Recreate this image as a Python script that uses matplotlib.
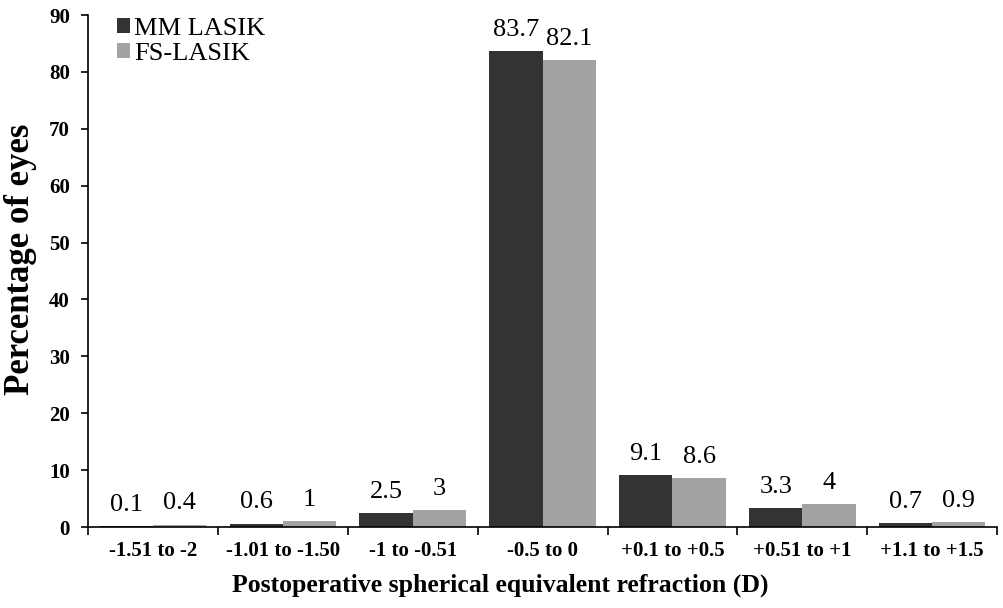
import numpy as np
import matplotlib.pyplot as plt

# data
categories = ['-1.51 to -2', '-1.01 to -1.50', '-1 to -0.51', '-0.5 to 0',
              '+0.1 to +0.5', '+0.51 to +1', '+1.1 to +1.5']
mm_lasik = [0.1, 0.6, 2.5, 83.7, 9.1, 3.3, 0.7]
fs_lasik = [0.4, 1, 3, 82.1, 8.6, 4, 0.9]
mm_labels = ['0.1', '0.6', '2.5', '83.7', '9.1', '3.3', '0.7']
fs_labels = ['0.4', '1', '3', '82.1', '8.6', '4', '0.9']

plt.rcParams['font.family'] = ['Liberation Serif', 'DejaVu Serif']

fig = plt.figure(figsize=(10.04, 6.08), dpi=100)
ax = fig.add_axes([0.0877, 0.1332, 0.9055, 0.8421])

x = np.arange(len(categories))
w = 0.41
ax.bar(x - w / 2, mm_lasik, w, color='#333333', label='MM LASIK')
ax.bar(x + w / 2, fs_lasik, w, color='#a3a3a3', label='FS-LASIK')

for i in range(len(categories)):
    ax.annotate(mm_labels[i], (x[i] - w / 2, mm_lasik[i]), xytext=(0, 11),
                textcoords='offset points', ha='center', va='baseline', fontsize=19)
    ax.annotate(fs_labels[i], (x[i] + w / 2, fs_lasik[i]), xytext=(0, 11),
                textcoords='offset points', ha='center', va='baseline', fontsize=19)

ax.set_xlim(-0.5, len(categories) - 0.5)
ax.set_ylim(0, 90)
ax.set_yticks(range(0, 91, 10))
ax.set_xticks(np.arange(-0.5, len(categories), 1))
ax.set_xticklabels([])
ax.set_xticks(x, minor=True)
ax.set_xticklabels(categories, minor=True, fontweight='bold', fontsize=15)
ax.tick_params(axis='x', which='minor', length=0, pad=10)
ax.tick_params(axis='x', which='major', length=6, direction='out', width=1.2)
ax.tick_params(axis='y', length=5, width=1.2, labelsize=15, pad=8)
for t in ax.get_yticklabels():
    t.set_fontweight('bold')

ax.spines['top'].set_visible(False)
ax.spines['right'].set_visible(False)
ax.spines['left'].set_linewidth(1.2)
ax.spines['bottom'].set_linewidth(1.2)

ax.set_xlabel('Postoperative spherical equivalent refraction (D)', fontweight='bold',
              fontsize=18.5, labelpad=8)
ax.xaxis.set_label_coords(0.453, -0.09)
ax.set_ylabel('Percentage of eyes', fontweight='bold', fontsize=25)
ax.yaxis.set_label_coords(-0.056, 0.523)

ax.legend(loc='upper left', bbox_to_anchor=(0.02, 1.015), frameon=False, fontsize=19,
          handlelength=0.5, handleheight=0.5, handletextpad=0.15, labelspacing=0.1,
          borderaxespad=0)

fig.savefig('out.png', dpi=100)
